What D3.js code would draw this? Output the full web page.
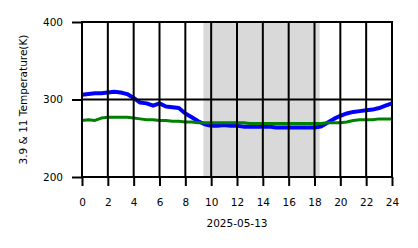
<!DOCTYPE html>
<html>
<head>
<meta charset="utf-8">
<script src="https://cdn.jsdelivr.net/npm/d3@7"></script>
<style>
	body { margin: 0; background: #fff; }
	text { font-family: "DejaVu Sans", sans-serif; fill: #000; }
</style>
</head>
<body>
<svg id="svg" width="418" height="248"></svg>
<script>
"use strict";

// hours of the day, one reading every half hour
const hours = d3.range(0, 24.01, 0.5);

// 3.9 um brightness temperature (K)
const temp39 = [
	306, 307, 308, 308, 309, 310, 309, 307, 302, 296,
	295, 292, 295, 291, 290, 289, 282, 277, 272, 268,
	266, 266, 267, 266, 266, 265, 265, 265, 265, 265,
	264, 264, 264, 264, 264, 264, 264, 265, 270, 275,
	279, 282, 284, 285, 286, 287, 289, 292, 295
];

// 11 um brightness temperature (K)
const temp11 = [
	273, 274, 273, 276, 277, 277, 277, 277, 276, 275,
	274, 274, 273, 273, 272, 272, 271, 271, 270, 270,
	270, 270, 270, 270, 270, 270, 269, 269, 269, 269,
	269, 269, 269, 269, 269, 269, 269, 269, 270, 270,
	270, 271, 273, 274, 274, 274, 275, 275, 275
];

// night band (hours)
const shade = [9.4, 18.4];

const xTicks = d3.range(0, 25, 2);
const yTicks = [200, 300, 400];

const svg = d3.select("#svg");
const margin = { left: 82, right: 26, top: 22, bottom: 71 };
const width = 418 - margin.left - margin.right;
const height = 248 - margin.top - margin.bottom;

const x = d3.scaleLinear().domain([0, 24]).range([0, width]);
const y = d3.scaleLinear().domain([200, 400]).range([height, 0]);

const g = svg.append("g")
	.attr("transform", `translate(${margin.left},${margin.top})`);

// shaded band
g.append("rect")
	.attr("x", x(shade[0]))
	.attr("y", 0)
	.attr("width", x(shade[1]) - x(shade[0]))
	.attr("height", height)
	.attr("fill", "#d9d9d9");

const line = (vals) => d3.line()
	.x((d, i) => x(hours[i]))
	.y((d) => y(d))(vals);

g.append("path")
	.attr("d", line(temp39))
	.attr("fill", "none")
	.attr("stroke", "#0000ff")
	.attr("stroke-width", 4)
	.attr("stroke-linejoin", "round");

g.append("path")
	.attr("d", line(temp11))
	.attr("fill", "none")
	.attr("stroke", "#008000")
	.attr("stroke-width", 3)
	.attr("stroke-linejoin", "round");

// x axis with grid on top of data
const xAxis = g.append("g")
	.attr("transform", `translate(0,${height})`)
	.call(d3.axisBottom(x).tickValues(xTicks).tickSize(9).tickSizeOuter(0).tickPadding(13));
xAxis.select(".domain").remove();
xAxis.selectAll("line").attr("stroke-width", 2);
xAxis.selectAll("text").attr("font-size", "10.5px");

g.append("g")
	.selectAll("line")
	.data(xTicks)
	.join("line")
	.attr("x1", (d) => x(d))
	.attr("x2", (d) => x(d))
	.attr("y1", 0)
	.attr("y2", height)
	.attr("stroke", "#000")
	.attr("stroke-width", 2);

// y axis, grid lines across the plot
const yAxis = g.append("g")
	.call(d3.axisLeft(y).tickValues(yTicks).tickSize(10).tickSizeOuter(0).tickPadding(9));
yAxis.select(".domain").remove();
yAxis.selectAll("line").attr("stroke-width", 2);
yAxis.selectAll("text").attr("font-size", "10.5px");

g.append("g")
	.selectAll("line")
	.data(yTicks)
	.join("line")
	.attr("x1", -1)
	.attr("x2", width + 1)
	.attr("y1", (d) => y(d))
	.attr("y2", (d) => y(d))
	.attr("stroke", "#000")
	.attr("stroke-width", 2);

g.selectAll(".tick text").attr("fill", "#000");

// labels
svg.append("text")
	.attr("x", margin.left + width / 2)
	.attr("y", 227)
	.attr("text-anchor", "middle")
	.attr("font-size", "10.5px")
	.text("2025-05-13");

svg.append("text")
	.attr("transform", `translate(27,${margin.top + height / 2}) rotate(-90)`)
	.attr("text-anchor", "middle")
	.attr("font-size", "10.5px")
	.text("3.9 & 11 Temperature(K)");
</script>
</body>
</html>
